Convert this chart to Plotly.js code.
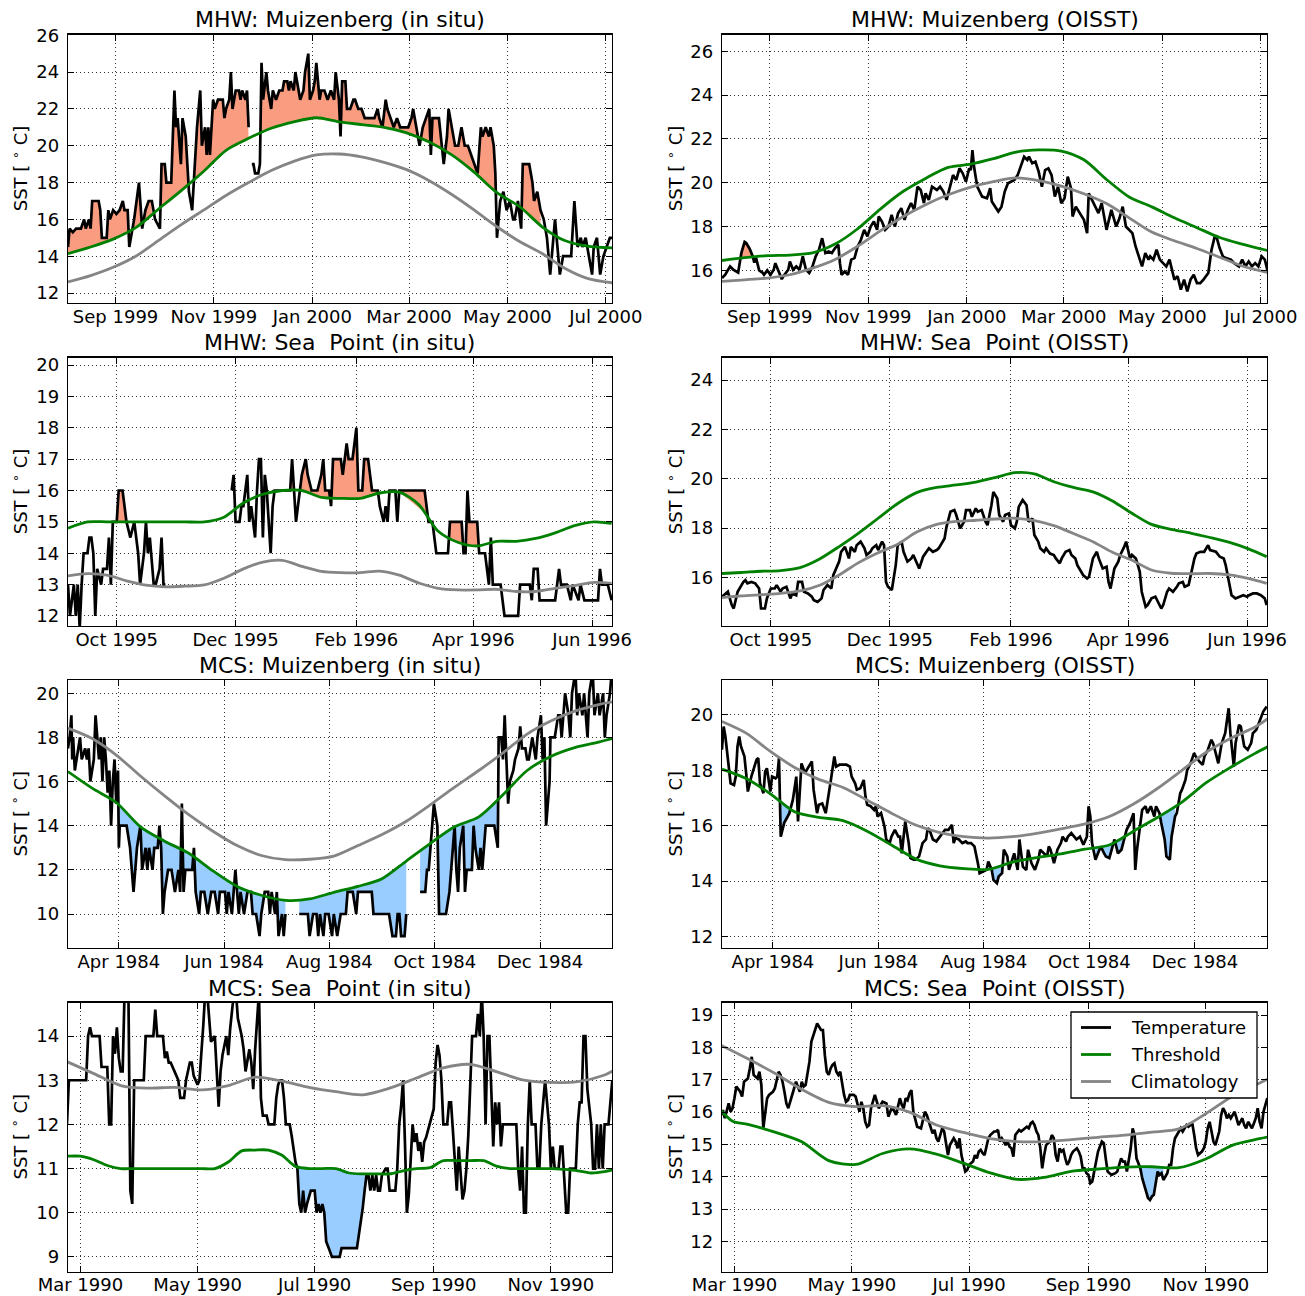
<!DOCTYPE html>
<html><head><meta charset="utf-8">
<script src="https://cdn.plot.ly/plotly-3.0.1.min.js"></script>
<style>html,body{margin:0;padding:0;background:#fff}</style>
</head><body>
<div id="chart" style="width:1305px;height:1296px"></div>
<script>
// ---------- DATA: [day offset from panel start, value] ----------
// Panel 1: MHW Muizenberg (in situ), start 1999-08-02 12:00
const p1Temp = [[0,14.5],[1,15.5],[3,15.3],[5,15.5],[8,15.5],[10,16],[11,15.5],[13,16],[14,15.5],[15,17],[19,17],[20,16.5],[21,15],[24,15],[25,16.5],[26,16],[28,16.5],[30,16.3],[32,16.5],[34,17],[35,16.5],[37,16.5],[38,14.5],[40,15.5],[41,16],[44,18],[46,15.5],[48,16.5],[50,17],[52,17],[54,16],[57,15.5],[58,19],[60,19],[61,18],[63,18],[64,18],[66,23],[67,21],[68,21.5],[70,19],[71,21.5],[73,20.5],[74,19],[75,17.5],[77,16.5],[78,18],[80,21],[82,23],[83,20],[85,21],[86,19.5],[87,21],[88,19.5],[90,22.5],[91,22],[93,22.5],[94,22.5],[96,22.5],[97,21.5],[98,22],[100,22.5],[101,24],[102,22],[104,23],[106,23],[107,22.5],[108,23],[110,22.5],[111,23],[112,21],[113,null],[114,19],[115,19],[116,18.5],[118,18.5],[119,19],[120,24.5],[121,22.5],[123,24],[124,23],[126,22],[127,23],[129,22.5],[131,23],[133,23],[134,23.5],[136,23.5],[137,23],[138,23.5],[140,23],[141,24],[143,23],[144,22.5],[146,23],[147,24],[149,25],[150,22.5],[152,23],[153,23.5],[154,24.5],[156,22.5],[157,23],[159,23],[161,22.5],[163,23],[165,22.5],[166,24],[168,22.5],[169,20.5],[170,23.5],[172,23.5],[173,22],[175,22],[177,22.5],[178,22.5],[180,22],[182,22],[184,21.5],[186,21.5],[188,21.5],[190,21.5],[192,22],[193,21.5],[195,21],[197,22.5],[198,22],[200,21.5],[202,21],[204,21.5],[206,21],[208,21],[211,21],[213,21.5],[214,22],[216,21],[218,20],[220,21],[222,21.5],[224,22],[225,19.5],[226,21.5],[228,21.5],[230,21.5],[233,19],[235,20.5],[236,22],[238,21],[240,20],[242,20],[244,21],[246,20],[248,20],[250,19.5],[252,19],[254,18.5],[256,21],[257,20.5],[259,21],[261,20.5],[262,21],[264,20],[265,18.5],[266,15],[267,16],[268,17],[270,17.5],[272,16.5],[274,17],[276,16],[277,16],[279,17],[281,15.5],[282,19],[284,19],[286,19],[288,18],[289,17],[291,17.5],[293,16.5],[295,16],[297,15],[299,13],[300,14],[302,16],[304,14],[305,13],[307,14],[310,14],[312,14],[314,17],[316,14.5],[318,15],[319,14.5],[321,15],[323,14],[325,13],[326,14.5],[328,15],[330,13],[332,14],[334,14.5],[336,15],[338,15]];
const p1Thresh = [[0,14.14],[14,14.5],[28,14.93],[42,15.55],[56,16.55],[70,17.55],[84,18.6],[98,19.75],[112,20.4],[126,20.95],[140,21.3],[154,21.52],[168,21.3],[182,21.15],[196,21.0],[210,20.7],[224,20.2],[238,19.5],[252,18.55],[266,17.45],[280,16.7],[294,15.6],[308,14.85],[322,14.55],[338,14.45]];
const p1Clim = [[0,12.6],[14,12.95],[28,13.4],[42,14.0],[56,14.85],[70,15.7],[84,16.5],[98,17.3],[112,18.0],[126,18.65],[140,19.15],[154,19.5],[168,19.55],[182,19.4],[196,19.1],[210,18.7],[224,18.1],[238,17.35],[252,16.5],[266,15.6],[280,14.8],[294,14.15],[308,13.35],[322,12.8],[338,12.55]];
const p1Events = [[0,53],[57,112],[119,266],[281,293]];

// Panel 2: MHW Muizenberg (OISST), start 1999-08-02 12:00
const p2Temp = [[0,15.65],[2,15.8],[5,16.18],[7,16.03],[10,15.9],[12,16.8],[14,17.3],[15,17.25],[17,17.0],[19,16.65],[20,16.35],[21,16.6],[23,16.0],[25,15.9],[26,15.8],[28,16.0],[30,15.8],[32,16.03],[33,16.33],[35,15.95],[37,15.6],[38,15.73],[41,16.03],[42,16.4],[44,16.03],[46,16.18],[48,16.03],[50,16.64],[52,16.03],[54,15.88],[56,16.18],[58,16.64],[60,16.94],[62,17.47],[64,16.79],[66,16.86],[68,16.79],[70,17.02],[72,17.17],[73,16.33],[74,15.8],[76,15.95],[78,15.8],[80,16.49],[82,16.56],[84,17.09],[86,17.4],[88,17.85],[90,17.55],[92,18.0],[94,18.23],[96,17.85],[97,18.46],[99,18.23],[101,17.85],[103,18.0],[105,18.53],[107,18.0],[109,18.61],[111,18.84],[113,18.31],[115,18.76],[117,19.07],[119,18.76],[121,19.82],[123,19.67],[125,19.07],[126,19.52],[128,19.22],[130,19.82],[133,19.67],[135,19.82],[137,19.6],[139,19.22],[141,19.82],[143,20.35],[145,20.13],[147,20.66],[149,20.43],[151,20.05],[153,20.66],[154,20.58],[155,21.49],[156,20.73],[158,19.82],[160,19.52],[161,19.37],[164,19.29],[166,19.75],[167,19.14],[169,18.91],[171,18.69],[173,18.91],[175,19.6],[177,19.98],[179,20.05],[181,20.13],[183,20.35],[185,20.73],[187,21.19],[189,21.04],[190,21.19],[192,20.89],[194,20.96],[196,20.51],[198,19.82],[200,20.58],[202,20.66],[204,20.35],[206,19.37],[208,19.82],[210,19.07],[212,19.29],[214,20.28],[216,19.75],[217,18.46],[219,18.91],[221,18.69],[224,18.31],[226,17.7],[227,19.52],[229,19.22],[231,18.91],[233,18.61],[235,19.07],[237,18.31],[238,17.85],[241,18.76],[243,18.31],[244,18.0],[246,18.38],[248,18.91],[250,18.0],[252,17.85],[254,17.7],[256,17.09],[258,16.64],[260,16.18],[262,16.79],[264,16.49],[265,16.64],[267,16.49],[269,16.94],[271,16.49],[273,16.33],[275,16.18],[277,16.49],[279,15.88],[280,15.58],[282,15.73],[284,15.12],[286,15.58],[288,15.04],[290,15.58],[292,15.8],[294,15.42],[296,15.42],[298,15.58],[300,15.8],[301,15.88],[303,16.94],[305,17.55],[306,17.55],[308,17.02],[310,16.64],[312,16.56],[315,16.49],[317,16.33],[320,16.18],[322,16.49],[324,16.18],[326,16.41],[328,16.18],[330,16.33],[332,16.18],[334,16.64],[336,16.49],[338,15.88]];
const p2Thresh = [[0,16.45],[14,16.58],[28,16.67],[42,16.7],[56,16.8],[70,17.2],[84,17.9],[98,18.8],[112,19.6],[126,20.2],[140,20.7],[154,20.85],[168,21.1],[182,21.4],[196,21.5],[210,21.45],[224,21.05],[238,20.15],[252,19.35],[266,18.9],[280,18.4],[294,17.95],[308,17.5],[322,17.2],[338,16.9]];
const p2Clim = [[0,15.5],[14,15.57],[28,15.65],[42,15.8],[56,16.1],[70,16.5],[84,17.1],[98,17.8],[112,18.45],[126,19.0],[140,19.45],[154,19.8],[168,20.05],[182,20.22],[196,20.1],[210,19.85],[224,19.5],[238,19.05],[252,18.4],[266,17.75],[280,17.35],[294,17.0],[308,16.6],[322,16.2],[338,15.9]];
const p2Events = [[11,19]];

// Panel 3: MHW Sea Point (in situ), start 1995-09-06
const p3Temp = [[0,13],[1,12],[3,13],[4,12],[5,13],[6,11.6],[7,13],[8,14],[10,14],[11,14.5],[12,14.5],[13,14],[14,12],[15,13.5],[17,13],[18,13.5],[20,13.5],[21,14.5],[22,13],[23,15],[25,15],[26,16],[28,16],[29,15.5],[30,15],[32,14.5],[34,15],[36,14],[37,13],[38,13.5],[39,14],[40,15],[41,14],[42,14.5],[44,13],[45,13],[47,13.5],[48,14.5],[49,13],[50,13],[51,null],[84,16],[85,16.5],[86,15],[88,15],[89,15.5],[90,15.5],[92,16.5],[93,15],[94,15.5],[95,15],[96,14.5],[97,16],[98,17],[99,17],[100,14.5],[101,16.5],[102,16],[103,15],[104,14],[105,15.5],[106,16],[114,16],[115,17],[116,16],[117,15],[118,15.5],[120,16.5],[122,17],[123,16.5],[125,16],[128,16],[130,16.5],[131,17],[132,16],[134,16],[135,15.5],[136,17],[140,17],[141,16.5],[143,17.5],[144,17],[146,17],[148,18],[149,16],[151,16],[152,17],[154,17],[156,16],[159,16],[160,15.5],[162,15],[163,15.5],[164,15],[165,16],[168,16],[169,15],[170,16],[183,16],[185,15],[187,15],[189,14],[195,14],[196,15],[202,15],[203,14],[204,14],[205,16],[206,15],[210,15],[211,14],[214,14],[216,13],[217,14.5],[218,13],[222,13],[223,12.5],[224,12],[231,12],[232,13],[237,13],[238,12.5],[239,13.5],[241,13.5],[242,12.5],[250,12.5],[251,13],[252,13.5],[253,13],[256,13],[258,12.5],[259,13],[262,12.5],[263,13],[265,12.5],[272,12.5],[273,13.5],[274,13],[277,13],[279,12.5]];
const p3Thresh = [[0,14.8],[10,15.0],[20,15.0],[30,15.0],[40,15.0],[50,15.0],[60,15.0],[70,15.0],[80,15.15],[90,15.6],[100,15.88],[110,16.0],[120,16.0],[130,15.78],[140,15.75],[150,15.75],[160,15.92],[170,15.95],[180,15.55],[190,14.7],[200,14.35],[210,14.23],[220,14.38],[230,14.38],[240,14.47],[250,14.65],[260,14.88],[270,15.0],[279,14.95]];
const p3Clim = [[0,13.28],[10,13.35],[20,13.3],[30,13.12],[40,12.98],[50,12.93],[60,12.95],[70,12.99],[80,13.2],[90,13.5],[100,13.72],[110,13.77],[120,13.58],[130,13.42],[140,13.38],[150,13.38],[160,13.43],[170,13.3],[180,13.05],[190,12.88],[200,12.83],[210,12.83],[220,12.85],[230,12.78],[240,12.78],[250,12.88],[260,12.97],[270,13.07],[279,13.04]];
const p3Events = [[24,31],[112,186],[194,211]];

// Panel 4: MHW Sea Point (OISST), start 1995-09-06
const p4Temp = [[0,15.22],[2,15.35],[3,15.42],[5,14.88],[6,14.74],[8,15.42],[9,15.55],[11,15.82],[12,15.89],[13,15.76],[15,15.82],[17,15.76],[19,15.55],[20,14.74],[22,14.74],[23,15.15],[25,15.55],[27,15.55],[28,15.69],[30,15.42],[31,15.55],[33,15.62],[35,15.15],[36,15.35],[38,15.28],[39,15.82],[41,15.82],[42,15.42],[44,15.35],[46,15.22],[47,15.08],[49,15.01],[51,15.15],[52,15.49],[54,15.69],[56,15.55],[57,16.09],[58,16.3],[60,16.64],[61,17.04],[63,17.24],[65,16.77],[66,17.24],[68,17.04],[69,17.31],[71,17.45],[73,17.18],[74,16.91],[76,17.04],[77,17.18],[79,17.31],[80,17.11],[82,17.45],[83,17.31],[84,15.82],[85,15.62],[87,15.49],[89,16.5],[90,17.31],[92,17.45],[93,17.04],[95,16.64],[97,16.77],[98,16.91],[100,16.5],[101,16.36],[103,16.84],[104,16.97],[106,17.18],[108,17.04],[110,17.11],[111,17.18],[112,17.31],[114,17.58],[115,18.05],[117,18.66],[119,18.73],[120,18.53],[122,17.99],[124,18.26],[125,18.73],[127,18.73],[128,18.46],[130,18.8],[131,18.66],[133,18.73],[135,18.26],[136,18.12],[138,18.93],[139,19.47],[141,19.2],[142,18.53],[144,18.26],[145,18.53],[147,18.6],[148,18.12],[150,17.99],[151,18.26],[152,18.86],[154,19.14],[156,18.93],[157,18.26],[159,18.39],[160,17.72],[162,17.45],[163,17.18],[165,17.04],[166,17.18],[168,16.97],[170,16.91],[171,16.77],[173,16.57],[174,16.77],[176,17.04],[178,17.11],[179,16.91],[181,16.77],[182,16.5],[184,16.23],[185,16.09],[187,15.96],[188,16.03],[190,16.77],[192,17.04],[193,16.77],[195,16.36],[197,16.43],[198,15.82],[199,15.55],[201,16.36],[203,16.64],[204,16.91],[206,17.24],[207,17.45],[209,16.77],[210,16.91],[212,16.77],[214,16.23],[215,15.42],[217,14.81],[218,14.88],[220,15.15],[222,15.22],[223,15.08],[225,14.74],[226,14.88],[228,15.42],[229,15.55],[231,15.42],[233,15.62],[234,15.76],[236,15.82],[237,15.62],[239,15.69],[240,16.09],[242,16.77],[243,16.97],[245,17.04],[247,17.04],[249,17.31],[250,17.11],[253,17.04],[255,16.84],[257,16.77],[258,16.5],[260,15.76],[261,15.28],[263,15.15],[265,15.22],[267,15.28],[269,15.22],[270,15.28],[272,15.35],[274,15.35],[276,15.28],[278,15.15],[279,14.88]];
const p4Thresh = [[0,16.16],[10,16.2],[20,16.25],[30,16.28],[40,16.4],[50,16.75],[60,17.25],[70,17.8],[80,18.4],[90,19.0],[100,19.45],[110,19.65],[120,19.75],[130,19.87],[140,20.05],[150,20.25],[160,20.2],[170,19.88],[180,19.65],[190,19.47],[200,19.1],[210,18.6],[220,18.15],[230,17.95],[240,17.8],[250,17.62],[260,17.42],[270,17.15],[279,16.84]];
const p4Clim = [[0,15.18],[10,15.25],[20,15.3],[30,15.35],[40,15.45],[50,15.68],[60,16.1],[70,16.6],[80,17.0],[90,17.35],[100,17.85],[110,18.15],[120,18.27],[130,18.32],[140,18.37],[150,18.4],[160,18.3],[170,18.1],[180,17.78],[190,17.45],[200,17.02],[210,16.7],[220,16.3],[230,16.17],[240,16.15],[250,16.16],[260,16.1],[270,15.95],[279,15.76]];
const p4Events = [];

// Panel 5: MCS Muizenberg (in situ), start 1984-03-02 12:00
const p5Temp = [[0,17.5],[1,18],[2,19],[2.5,17],[3,18],[4,16.5],[5,17],[7,18],[8,17],[10,17.5],[11,17],[12,17.5],[13,16],[15,17],[16,19],[18,17],[19,18],[20,16],[21,18],[22,17],[23,15.5],[24,16.5],[25,14],[26,16],[27,17],[28,15],[29,16.5],[29.5,13],[30,14],[34,14],[36,13],[38,11],[40,13],[42,14],[43,12],[45,13],[46,12],[47,13],[49,12],[50,13],[52,13],[53,14],[54,13],[55,10],[56,11],[58,12],[60,12],[62,11],[64,12],[65,11],[66,15],[67,11],[68,12],[72,12],[73,13],[74,11],[76,10],[77,11],[79,11],[81,10],[83,11],[85,11],[87,10],[88,11],[91,11],[92,10],[93,11],[95,10],[96,11],[97,12],[99,10],[100,11],[102,10],[104,11],[106,11],[107,10],[109,10],[111,9],[112,10],[114,11],[116,11],[117,10],[118,11],[120,10],[121,11],[122,9],[124,10],[125,9],[126,10],[127,null],[134,10],[137,10],[139,10],[140,9],[142,10],[144,10],[145,9],[146,10],[148,9],[149,10],[151,10],[153,9],[154,10],[156,9],[158,10],[161,10],[162,11],[165,11],[167,10],[168,11],[173,11],[176,11],[177,10],[186,10],[188,9],[190,9],[191,10],[192,10],[193,9],[195,9],[196,10],[197,null],[204,11],[207,11],[208,12],[209,12],[210,13],[211,14],[212,15],[214,14],[215,10],[219,10],[221,11],[223,13],[224,14],[225,12],[226,11],[227,13],[229,14],[230,11],[231,12],[234,12],[235,14],[236,13],[238,12],[239,13],[240,12],[242,14],[247,14],[249,13],[249.5,18],[251,18],[252,17],[253,19],[254,17],[255,15],[256,16],[258,16.5],[259,17],[261,17.5],[262,18.5],[263,17.5],[265,17.5],[266,17],[267,17],[269,18],[271,17],[272,18],[273,18.5],[274,19],[275,17],[276,18],[277,14],[279,16],[279.5,18],[282,18],[283,18.5],[284,19],[285,19],[286,18],[288,20],[290,19],[291,18],[292,20],[294,21],[295,19],[296,20],[298,19],[299,20],[301,18],[302,20],[304,21],[305,19],[307,20],[308,19],[310,20],[311,18],[312,19],[314,20],[315,21]];
const p5Thresh = [[0,16.45],[14,15.7],[28,15.05],[42,13.95],[56,13.3],[70,12.75],[84,11.95],[98,11.25],[112,10.85],[126,10.62],[140,10.68],[154,10.98],[168,11.25],[182,11.6],[196,12.4],[210,13.2],[224,13.95],[238,14.4],[252,15.4],[266,16.5],[280,17.15],[294,17.55],[308,17.8],[316,17.96]];
const p5Clim = [[0,18.42],[14,17.95],[28,17.2],[42,16.25],[56,15.35],[70,14.5],[84,13.75],[98,13.1],[112,12.65],[126,12.46],[140,12.48],[154,12.62],[168,13.1],[182,13.6],[196,14.2],[210,14.95],[224,15.75],[238,16.5],[252,17.3],[266,18.15],[280,18.75],[294,19.2],[308,19.5],[316,19.62]];
const p5Events = [[28,126],[134,196],[204,249]];

// Panel 6: MCS Muizenberg (OISST), start 1984-03-02 12:00
const p6Temp = [[0,18.74],[1,19.58],[2,19.22],[4,18.0],[5,17.53],[7,17.47],[8,17.77],[9,18.86],[10,19.22],[11,18.86],[13,18.5],[14,17.9],[15,17.23],[17,17.77],[18,18.0],[20,18.38],[21,18.44],[22,17.53],[24,17.17],[25,17.95],[26,18.07],[28,17.23],[29,17.77],[31,17.71],[32,17.77],[33,18.44],[34,15.6],[36,16.1],[38,16.33],[39,16.45],[41,16.93],[43,17.77],[44,16.15],[45,17.05],[46,18.25],[48,17.9],[49,18.0],[51,18.2],[52,18.32],[53,17.3],[55,16.45],[56,16.75],[58,16.8],[60,16.45],[62,17.17],[63,17.65],[65,18.5],[66,18.13],[68,18.2],[70,18.2],[72,18.2],[74,18.13],[75,17.77],[77,17.53],[78,17.3],[80,17.35],[82,17.65],[83,17.05],[84,16.75],[86,16.7],[88,16.57],[89,16.7],[90,16.33],[92,16.45],[94,15.97],[95,15.5],[97,15.37],[98,15.6],[100,15.85],[102,15.6],[103,15.6],[104,15.0],[106,16.15],[108,15.37],[109,14.83],[111,14.77],[112,14.77],[114,14.89],[116,15.37],[118,15.5],[119,15.91],[120,15.85],[122,15.5],[124,15.43],[126,15.6],[128,15.73],[129,15.85],[131,15.85],[133,16.03],[134,15.37],[135,15.55],[137,15.5],[139,15.37],[141,15.43],[142,15.37],[144,15.37],[146,15.25],[148,14.64],[149,14.28],[151,14.34],[153,14.4],[154,14.7],[156,14.4],[157,14.04],[159,13.92],[160,14.16],[162,14.28],[163,15.13],[165,14.89],[166,14.4],[168,14.77],[169,15.0],[171,14.4],[172,15.5],[174,14.52],[176,14.4],[177,15.13],[179,14.64],[181,14.4],[183,14.77],[184,15.13],[186,15.0],[188,14.89],[189,15.25],[190,15.13],[192,14.64],[194,15.13],[196,15.37],[197,15.6],[199,15.43],[200,15.6],[202,15.73],[204,15.6],[205,15.5],[207,15.6],[209,15.31],[211,15.6],[212,16.7],[213,16.33],[214,15.37],[216,14.77],[218,15.13],[219,15.25],[221,15.0],[222,14.89],[224,14.83],[226,15.25],[227,15.5],[229,15.0],[231,15.13],[232,15.37],[234,15.85],[236,16.1],[238,16.45],[239,14.4],[240,15.13],[242,16.1],[243,16.57],[245,16.7],[246,16.45],[248,16.7],[250,16.33],[251,16.7],[253,16.45],[254,16.1],[256,15.5],[257,14.89],[259,14.77],[260,15.6],[262,16.33],[263,16.45],[265,17.17],[266,17.3],[268,17.65],[269,18.0],[271,18.25],[273,18.62],[274,18.5],[276,18.32],[278,18.2],[279,18.5],[281,18.74],[283,19.1],[284,18.98],[286,18.5],[287,18.25],[289,18.98],[291,19.34],[293,20.24],[294,19.34],[296,18.13],[297,18.98],[299,19.64],[300,19.58],[302,18.86],[304,18.74],[306,18.98],[307,19.34],[309,19.46],[311,19.76],[313,20.12],[315,20.3]];
const p6Thresh = [[0,18.04],[14,17.7],[28,17.15],[42,16.5],[56,16.3],[70,16.18],[84,15.8],[98,15.3],[112,14.8],[126,14.55],[140,14.45],[154,14.42],[168,14.68],[182,14.84],[196,14.98],[210,15.15],[224,15.3],[238,15.8],[252,16.3],[266,16.85],[280,17.55],[294,18.1],[308,18.6],[316,18.86]];
const p6Clim = [[0,19.76],[14,19.34],[28,18.68],[42,18.1],[56,17.67],[70,17.38],[84,16.92],[98,16.45],[112,16.02],[126,15.75],[140,15.6],[154,15.55],[168,15.6],[182,15.72],[196,15.88],[210,16.06],[224,16.33],[238,16.78],[252,17.35],[266,18.0],[280,18.65],[294,19.15],[308,19.55],[316,19.88]];
const p6Events = [[33,40],[147,163],[216,234],[254,262]];

// Panel 7: MCS Sea Point (in situ), start 1990-02-22
const p7Temp = [[0,12],[1,13],[10,13],[11,14],[12,14.2],[13,14],[17,14],[18,13.3],[21,13.3],[22,12],[23,12],[24,14],[25,13.6],[26,14.2],[27,13.5],[28,13.2],[29,13.2],[30,15],[32,15],[33,10.5],[34,10.2],[35,13],[40,13],[41,14],[45,14],[46,14.6],[47,14],[50,14],[51,13.5],[52,13.65],[53,13.4],[54,13.4],[56,13.2],[57,13.1],[58,13],[59,12.6],[61,12.6],[62,13],[64,13.4],[65,13.4],[66,13.1],[68,12.9],[69,13],[71,14.25],[72,15],[73,15],[75,13.87],[77,14],[78,13.1],[79,12.4],[80,13.2],[81,13.57],[83,14],[84,13.57],[85,14.17],[87,15],[88,15],[89,14.4],[91,14],[92,13.7],[93,13.2],[94,13.5],[95,13.7],[96,13.4],[97,12.8],[98,13.7],[99,14.4],[100,15],[101,12.6],[102,12.2],[104,12.2],[105,12],[108,12],[109,12.6],[110,12.9],[111,13],[112,13],[113,12.6],[114,12],[116,12],[117,11.75],[118,11.45],[119,11.15],[120,11],[121,10.2],[122,10],[123,10.5],[124,10],[125,10.2],[127,10.5],[129,10.5],[130,10],[131,10.2],[132,10],[133,10.2],[134,10],[135,9.35],[137,9.12],[138,9],[142,9],[143,9.2],[151,9.2],[152,9.5],[153,9.75],[154,10.1],[155,10.5],[156,10.85],[157,10.85],[158,10.5],[159,10.85],[160,10.5],[161,10.85],[162,10.5],[163,10.5],[164,10.85],[166,11],[167,11],[168,10.5],[171,10.5],[172,11],[173,12],[174,12.4],[175,13],[176,11.6],[177,10],[178,10.4],[180,12],[181,11.6],[182,11.8],[183,11.4],[184,11.6],[185,11.15],[186,11.6],[187,11.7],[189,12],[190,12.2],[191,12.35],[192,13.4],[193,13.8],[194,13.57],[195,13],[196,12],[198,12],[199,12.5],[200,12.5],[201,11.85],[203,10.5],[204,11.5],[205,10.85],[206,10.3],[207,10.5],[208,11],[209,11.75],[210,13],[211,14],[213,14],[214,14.5],[215,14],[216,15],[217,14],[218,12],[219,14],[220,14],[222,11.5],[223,12.5],[224,12],[225,12.5],[226,11.5],[227,12],[234,12],[235,11],[236,10.5],[237,11.5],[238,10],[239,10],[240,12],[241,13],[242,12],[244,12],[245,11],[246,11],[247,12],[248,12.5],[249,13],[250,12.5],[251,12],[252,11],[253,11.5],[254,11],[256,11],[257,11.5],[258,11.5],[260,10],[261,10],[262,11],[265,11],[266,12],[267,12.5],[268,12.5],[269,14],[270,14],[271,12.8],[273,12],[274,11],[275,11],[276,12],[277,11],[278,12],[279,11],[280,12],[282,12],[284,13]];
const p7Thresh = [[0,11.28],[7,11.28],[14,11.2],[21,11.07],[28,11.0],[35,11.0],[42,11.0],[49,11.0],[56,11.0],[63,11.0],[70,11.0],[77,11.0],[84,11.15],[91,11.4],[98,11.42],[105,11.42],[112,11.3],[119,11.05],[126,11.0],[133,11.0],[140,11.0],[147,10.9],[154,10.88],[161,10.88],[168,10.88],[175,10.95],[182,11.0],[189,11.02],[196,11.18],[203,11.18],[210,11.18],[217,11.18],[224,11.05],[231,11.0],[238,11.0],[245,11.0],[252,11.0],[259,10.98],[266,10.95],[273,10.9],[280,10.93],[285,10.98]];
const p7Clim = [[0,13.42],[14,13.15],[28,12.88],[42,12.82],[56,12.84],[70,12.78],[84,12.88],[98,13.07],[112,12.98],[126,12.84],[140,12.74],[154,12.67],[168,12.82],[182,13.05],[196,13.28],[210,13.36],[224,13.19],[238,13.0],[252,12.95],[266,12.97],[280,13.12],[285,13.23]];
const p7Events = [[119,156]];

// Panel 8: MCS Sea Point (OISST), start 1990-02-22
const p8Temp = [[0,15.91],[1,16.06],[2,15.81],[3,16.06],[4,16.27],[5,16.01],[6,16.12],[7,16.43],[8,16.79],[10,16.63],[11,16.48],[12,16.94],[14,17.04],[15,17.35],[16,17.71],[17,17.15],[19,17.04],[20,17.25],[21,16.84],[22,15.5],[23,15.91],[24,16.43],[25,16.53],[27,16.63],[28,16.73],[30,17.25],[31,17.15],[32,16.94],[33,16.63],[34,16.27],[35,16.12],[37,16.58],[38,16.73],[39,16.94],[40,16.79],[41,16.63],[42,16.94],[43,16.79],[44,16.84],[45,17.15],[46,17.56],[47,18.18],[48,18.38],[49,18.59],[50,18.74],[52,18.54],[53,18.54],[54,17.76],[55,17.25],[56,17.15],[57,17.35],[58,17.46],[59,17.51],[60,17.25],[61,17.15],[62,17.25],[64,16.53],[65,16.32],[66,16.37],[67,16.53],[69,16.53],[70,16.48],[71,16.22],[72,16.01],[73,16.32],[74,16.12],[75,15.7],[76,15.55],[77,15.6],[78,16.12],[80,16.53],[81,16.32],[82,16.12],[83,16.22],[84,16.32],[86,16.27],[87,15.86],[88,16.01],[89,16.17],[91,15.91],[92,16.17],[93,16.43],[94,16.22],[95,16.12],[96,16.43],[97,16.37],[98,16.58],[99,16.68],[100,16.01],[101,15.81],[102,15.55],[104,15.5],[106,16.01],[107,15.91],[108,15.7],[109,15.5],[110,15.34],[111,15.45],[112,15.19],[113,15.09],[115,15.5],[116,15.4],[117,15.09],[118,14.67],[119,14.98],[120,15.09],[121,15.19],[122,15.09],[123,14.88],[124,15.19],[125,14.67],[127,14.16],[128,14.21],[129,14.37],[131,14.47],[132,14.67],[133,14.57],[134,14.78],[135,14.83],[136,14.73],[137,14.67],[138,14.93],[139,15.19],[140,15.29],[142,15.4],[143,15.4],[144,15.45],[145,15.09],[146,15.19],[147,15.09],[148,14.98],[149,15.09],[150,14.93],[151,14.88],[152,14.62],[153,15.29],[155,15.45],[156,15.4],[157,15.45],[158,15.5],[159,15.55],[160,15.5],[161,15.65],[162,15.7],[163,15.6],[164,15.4],[165,15.29],[166,14.88],[167,14.26],[168,14.67],[169,14.98],[171,15.09],[172,15.29],[173,15.19],[174,14.67],[175,14.47],[176,14.88],[177,14.78],[178,14.83],[179,14.57],[180,14.37],[181,14.47],[182,14.67],[183,14.78],[185,14.88],[186,14.78],[187,14.62],[188,14.26],[189,14.26],[190,14.11],[191,14.06],[192,13.8],[193,13.85],[194,14.16],[195,14.47],[196,14.78],[198,15.09],[199,15.04],[200,14.57],[201,14.16],[202,14.11],[203,14.06],[205,14.11],[206,14.16],[207,14.37],[208,14.57],[209,14.47],[210,14.47],[211,14.16],[212,14.52],[213,14.88],[214,15.5],[215,15.29],[216,14.57],[218,14.26],[219,13.95],[220,13.75],[221,13.54],[222,13.34],[223,13.28],[224,13.39],[225,13.44],[226,13.85],[227,14.16],[228,14.06],[229,14.11],[230,13.9],[232,14.11],[233,14.37],[234,14.37],[235,14.88],[236,15.19],[237,15.29],[238,15.4],[239,15.5],[240,15.4],[241,15.5],[242,15.6],[243,15.55],[245,15.65],[246,15.29],[247,14.88],[248,14.67],[249,14.73],[250,14.78],[251,14.88],[252,15.09],[253,15.5],[254,15.7],[255,15.4],[256,15.09],[257,14.98],[259,15.4],[260,15.91],[261,16.12],[262,16.01],[263,15.81],[264,15.91],[265,15.81],[266,15.91],[267,16.01],[268,15.81],[269,15.6],[270,15.7],[271,15.81],[272,15.6],[273,15.5],[274,15.7],[276,15.5],[277,15.65],[278,15.81],[279,16.12],[280,15.7],[281,15.5],[282,16.01],[284,16.43]];
const p8Thresh = [[0,16.05],[6,15.72],[14,15.62],[28,15.38],[42,15.08],[56,14.5],[70,14.38],[84,14.72],[98,14.86],[112,14.7],[126,14.42],[140,14.12],[154,13.92],[168,13.98],[182,14.17],[196,14.24],[210,14.3],[224,14.31],[238,14.28],[252,14.55],[266,14.98],[280,15.18],[285,15.24]];
const p8Clim = [[0,18.07],[14,17.65],[28,17.2],[42,16.7],[56,16.3],[70,16.17],[84,16.2],[98,16.0],[112,15.6],[126,15.37],[140,15.18],[154,15.09],[168,15.09],[182,15.15],[196,15.22],[210,15.29],[224,15.38],[238,15.48],[252,15.95],[266,16.5],[280,16.9],[285,17.04]];
const p8Events = [[216,230]];

const panelTitles = ['MHW: Muizenberg (in situ)','MHW: Muizenberg (OISST)','MHW: Sea\u00a0 Point (in situ)','MHW: Sea\u00a0 Point (OISST)','MCS: Muizenberg (in situ)','MCS: Muizenberg (OISST)','MCS: Sea\u00a0 Point (in situ)','MCS: Sea\u00a0 Point (OISST)'];
const legendLabels = ['Temperature','Threshold','Climatology'];
const yLabel = 'SST [ <sup>∘</sup> C]';

// ---------- BUILD ----------
const W = 1305, H = 1296;
const colX = [[68/W, 612/W], [722/W, 1267/W]];
const rowY = [[1-303/H, 1-34.5/H], [1-626/H, 1-357.5/H], [1-948/H, 1-680/H], [1-1271.5/H, 1-1002.5/H]];

const panels = [
  {temp:p1Temp, th:p1Thresh, cl:p1Clim, ev:p1Events, sign:1, base:'1999-08-02T12:00:00', xr:['1999-08-02 12:00','2000-07-04 20:00'], t0:'1999-09-01', yr:[11.46,26.04], dy:2},
  {temp:p2Temp, th:p2Thresh, cl:p2Clim, ev:p2Events, sign:1, base:'1999-08-02T12:00:00', xr:['1999-08-02 12:00','2000-07-04 20:00'], t0:'1999-09-01', yr:[14.51,26.77], dy:2},
  {temp:p3Temp, th:p3Thresh, cl:p3Clim, ev:p3Events, sign:1, base:'1995-09-06T00:00:00', xr:['1995-09-06 00:00','1996-06-11 04:00'], t0:'1995-10-01', yr:[11.68,20.24], dy:1},
  {temp:p4Temp, th:p4Thresh, cl:p4Clim, ev:p4Events, sign:1, base:'1995-09-06T00:00:00', xr:['1995-09-06 00:00','1996-06-11 04:00'], t0:'1995-10-01', yr:[14.03,24.92], dy:2},
  {temp:p5Temp, th:p5Thresh, cl:p5Clim, ev:p5Events, sign:-1, base:'1984-03-02T12:00:00', xr:['1984-03-02 13:00','1985-01-11 16:00'], t0:'1984-04-01', yr:[8.46,20.6], dy:2},
  {temp:p6Temp, th:p6Thresh, cl:p6Clim, ev:p6Events, sign:-1, base:'1984-03-02T12:00:00', xr:['1984-03-02 13:00','1985-01-11 16:00'], t0:'1984-04-01', yr:[11.58,21.26], dy:2},
  {temp:p7Temp, th:p7Thresh, cl:p7Clim, ev:p7Events, sign:-1, base:'1990-02-22T00:00:00', xr:['1990-02-22 13:00','1990-12-02 20:00'], t0:'1990-03-01', yr:[8.67,14.76], dy:1},
  {temp:p8Temp, th:p8Thresh, cl:p8Clim, ev:p8Events, sign:-1, base:'1990-02-22T00:00:00', xr:['1990-02-22 13:00','1990-12-02 20:00'], t0:'1990-03-01', yr:[11.07,19.39], dy:1}
];

function toDate(base, d) {
  const t = Date.parse(base + 'Z') + d * 86400000;
  return new Date(t).toISOString().slice(0, 19).replace('T', ' ');
}
function interp(pts, d) {
  if (d <= pts[0][0]) return pts[0][1];
  for (let i = 1; i < pts.length; i++) {
    if (d <= pts[i][0]) {
      const [d0, v0] = pts[i-1], [d1, v1] = pts[i];
      return v0 + (v1 - v0) * (d - d0) / (d1 - d0);
    }
  }
  return pts[pts.length-1][1];
}
function eventPolys(temp, th, ev, sign) {
  const out = [];
  for (const [s, e] of ev) {
    const segs = []; let seg = [];
    for (const [d, v] of temp) {
      if (d < s || d > e) continue;
      if (v === null) { if (seg.length) segs.push(seg); seg = []; continue; }
      seg.push([d, v]);
    }
    if (seg.length) segs.push(seg);
    for (const sg of segs) {
      const pts = [];
      for (let i = 0; i < sg.length; i++) {
        const [d, v] = sg[i]; const h = interp(th, d);
        if (i > 0) {
          const [dp, vp] = sg[i-1]; const hp = interp(th, dp);
          const a = (vp - hp) * sign, b = (v - h) * sign;
          if ((a > 0 && b < 0) || (a < 0 && b > 0)) {
            const f = a / (a - b); const dc = dp + f * (d - dp);
            pts.push([dc, interp(th, dc)]);
          }
        }
        pts.push([d, sign > 0 ? Math.max(v, h) : Math.min(v, h)]);
      }
      const xs = pts.map(p => p[0]);
      const ys = pts.map(p => p[1]);
      const hs = xs.map(d => interp(th, d));
      out.push({x: xs.concat(xs.slice().reverse()), y: ys.concat(hs.slice().reverse())});
    }
  }
  return out;
}

const FONT = 'DejaVu Sans';
const traces = [];
const layout = {
  width: W, height: H, margin: {l:0, r:0, t:0, b:0},
  paper_bgcolor: 'white', plot_bgcolor: 'white', showlegend: false,
  font: {family: FONT, size: 18, color: 'black'},
  annotations: [], shapes: []
};

panels.forEach((p, i) => {
  const n = i + 1, col = i % 2, row = Math.floor(i / 2);
  const xa = n === 1 ? 'x' : 'x' + n, ya = n === 1 ? 'y' : 'y' + n;
  const fillCol = p.sign > 0 ? '#F99C80' : '#99CCFF';
  eventPolys(p.temp, p.th, p.ev, p.sign).forEach(poly => {
    traces.push({x: poly.x.map(d => toDate(p.base, d)), y: poly.y, xaxis: xa, yaxis: ya, type: 'scatter', mode: 'lines',
      fill: 'toself', fillcolor: fillCol, line: {width: 0, color: fillCol}, hoverinfo: 'skip'});
  });
  traces.push({x: p.temp.map(q => toDate(p.base, q[0])), y: p.temp.map(q => q[1]), xaxis: xa, yaxis: ya, type: 'scatter', mode: 'lines',
    connectgaps: false, line: {color: 'black', width: 2.7}, name: legendLabels[0]});
  traces.push({x: p.th.map(q => toDate(p.base, q[0])), y: p.th.map(q => q[1]), xaxis: xa, yaxis: ya, type: 'scatter', mode: 'lines',
    line: {color: '#008000', width: 2.8, shape: 'spline', smoothing: 0.8}, name: legendLabels[1]});
  traces.push({x: p.cl.map(q => toDate(p.base, q[0])), y: p.cl.map(q => q[1]), xaxis: xa, yaxis: ya, type: 'scatter', mode: 'lines',
    line: {color: '#858585', width: 2.8, shape: 'spline', smoothing: 0.8}, name: legendLabels[2]});

  const common = {showline: true, linecolor: 'black', linewidth: 1.3, mirror: 'ticks', ticks: 'inside', ticklen: 6,
    tickcolor: 'black', tickwidth: 1, showgrid: true, gridcolor: '#333', gridwidth: 1, griddash: '1px,3px',
    zeroline: false, tickfont: {family: FONT, size: 18, color: 'black'}, fixedrange: true};
  layout[n === 1 ? 'xaxis' : 'xaxis' + n] = Object.assign({}, common, {
    domain: colX[col], anchor: ya, type: 'date', range: p.xr, tick0: p.t0, dtick: 'M2', tickformat: '%b %Y', ticklabelstandoff: -3});
  layout[n === 1 ? 'yaxis' : 'yaxis' + n] = Object.assign({}, common, {
    domain: rowY[row], anchor: xa, range: p.yr, tick0: 0, dtick: p.dy, ticklabelstandoff: 4});

  layout.annotations.push({text: panelTitles[i], xref: 'paper', yref: 'paper', x: (colX[col][0] + colX[col][1]) / 2,
    y: rowY[row][1], yanchor: 'bottom', xanchor: 'center', yshift: 0, showarrow: false, font: {family: FONT, size: 22, color: 'black'}});
  layout.annotations.push({text: yLabel, xref: 'paper', yref: 'paper', x: (col === 0 ? 19.5 : 674.5) / W,
    y: (rowY[row][0] + rowY[row][1]) / 2, xanchor: 'center', yanchor: 'middle', textangle: -90, showarrow: false,
    font: {family: FONT, size: 18, color: 'black'}});
});

// Legend (panel 8, upper right), drawn as a framed key
const legColors = ['black', '#008000', '#858585'];
const legRowsY = [1027.5, 1054.5, 1081.5];
layout.shapes.push({type: 'rect', xref: 'paper', yref: 'paper', x0: 1071/W, x1: 1257/W, y0: 1-1098/H, y1: 1-1012/H,
  line: {color: 'black', width: 1.3}, fillcolor: 'white', layer: 'above'});
legendLabels.forEach((lab, k) => {
  layout.shapes.push({type: 'line', xref: 'paper', yref: 'paper', x0: 1081/W, x1: 1111/W, y0: 1-legRowsY[k]/H, y1: 1-legRowsY[k]/H,
    line: {color: legColors[k], width: 2.8}, layer: 'above'});
  layout.annotations.push({text: lab, xref: 'paper', yref: 'paper', x: 1129/W, y: 1-legRowsY[k]/H, xanchor: 'left', yanchor: 'middle',
    showarrow: false, font: {family: FONT, size: 18, color: 'black'}});
});

Plotly.newPlot('chart', traces, layout, {staticPlot: true, displayModeBar: false});
</script>
</body></html>
